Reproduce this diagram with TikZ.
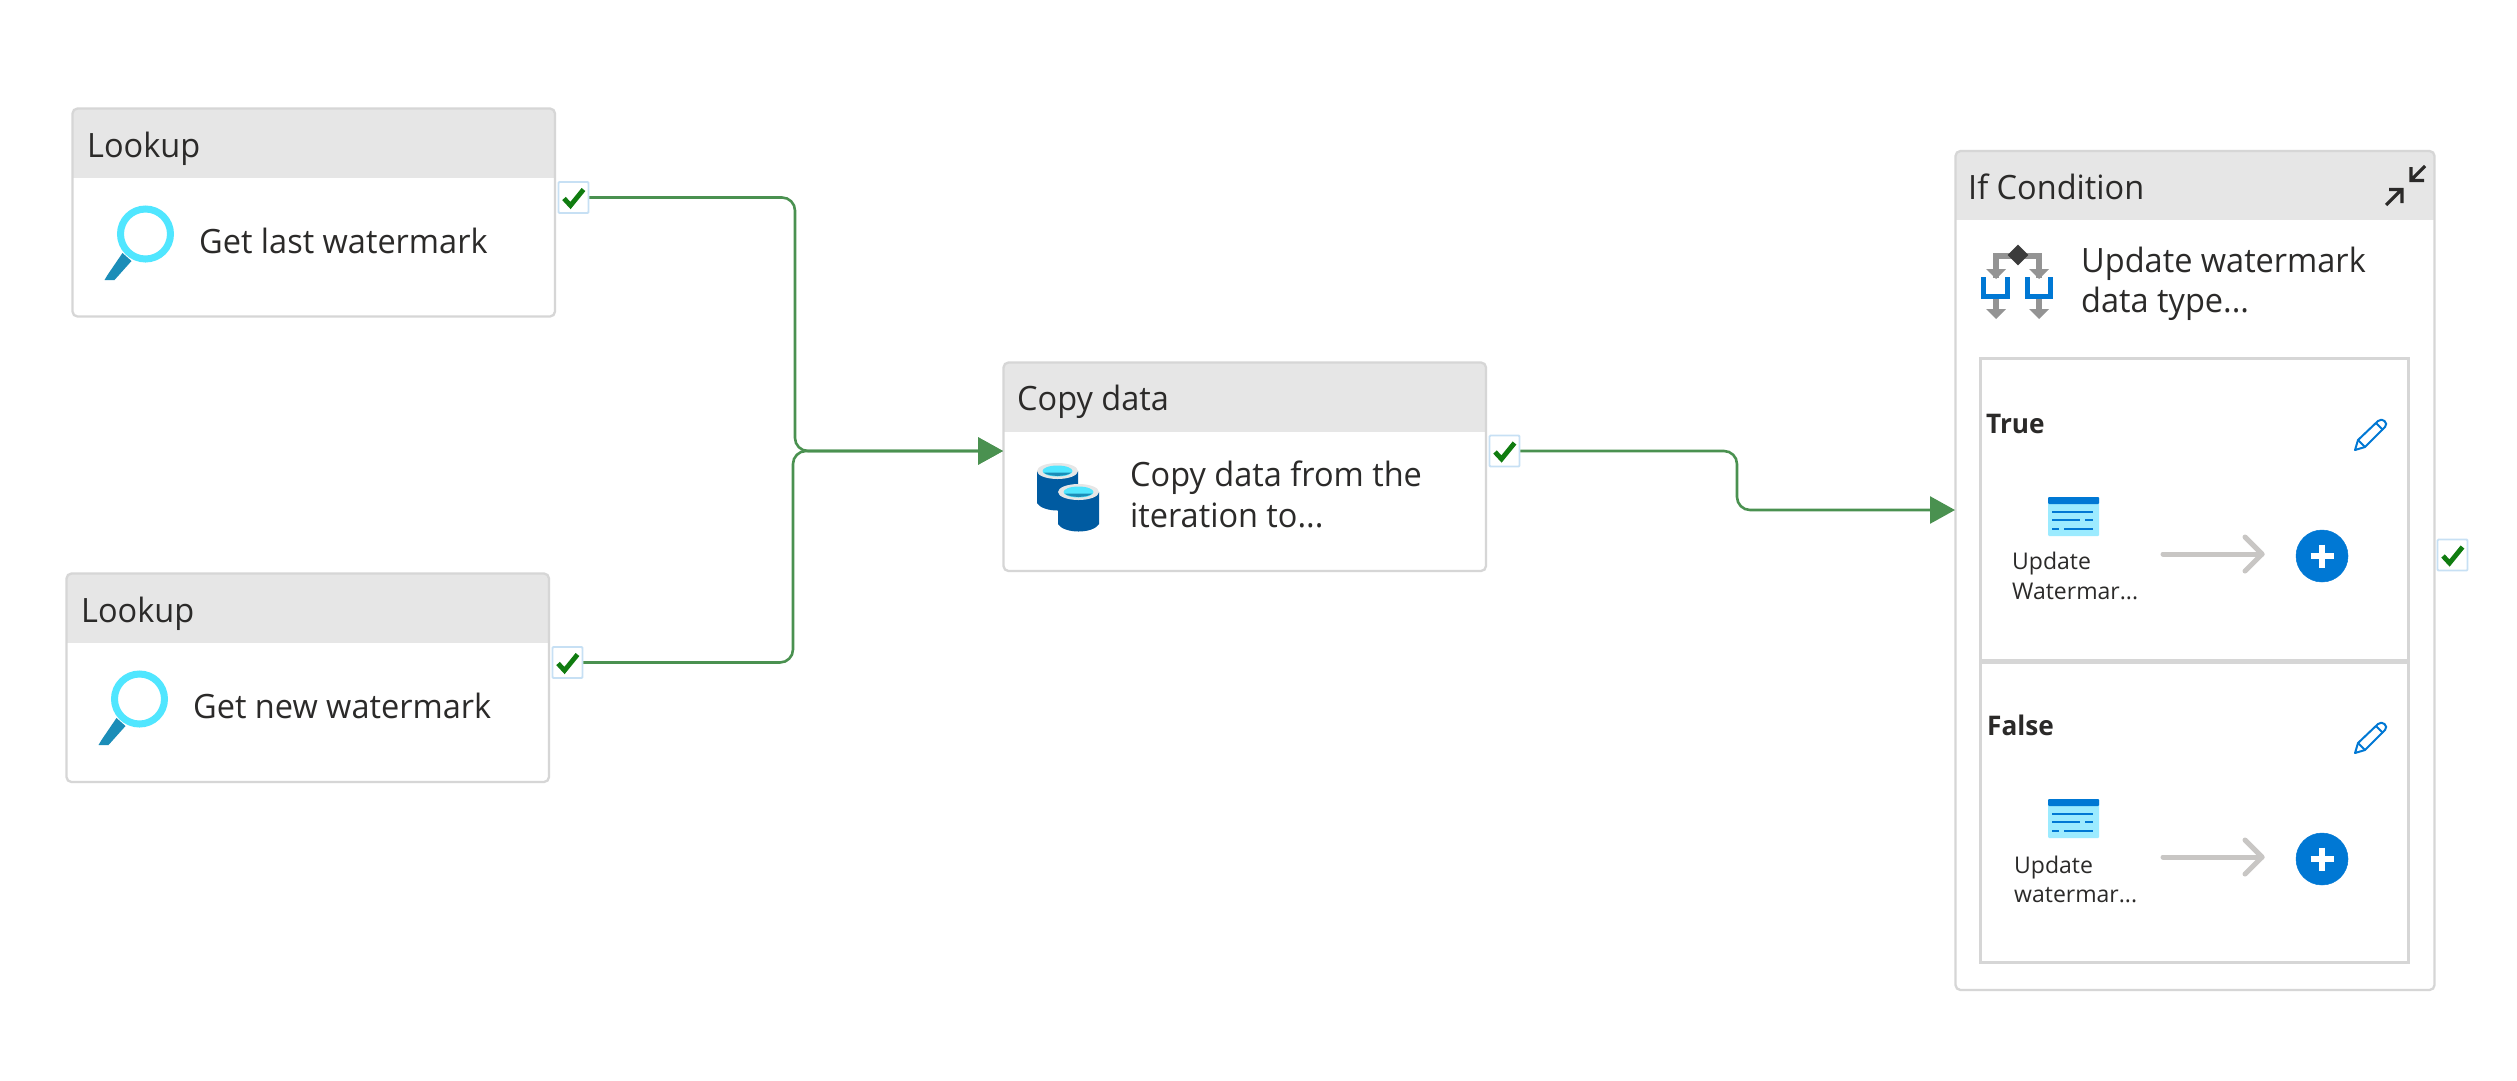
\documentclass[tikz,border=0pt]{standalone}
\usepackage{fontspec}
\setmainfont[FakeStretch=0.97]{Open Sans}
\newfontfamily\smallf{Open Sans}
\usetikzlibrary{arrows.meta,shapes.geometric}
\definecolor{edgegray}{HTML}{D6D6D6}
\definecolor{headgray}{HTML}{E6E6E6}
\definecolor{inktext}{HTML}{2B2A29}
\definecolor{flowgreen}{HTML}{4A9150}
\definecolor{checkgreen}{HTML}{107C10}
\definecolor{checkedge}{HTML}{C7E0F4}
\definecolor{azure}{HTML}{0078D4}
\definecolor{ringcyan}{HTML}{50E6FF}
\definecolor{handleblue}{HTML}{1B8DB8}
\definecolor{cylblue}{HTML}{005BA1}
\definecolor{tablecyan}{HTML}{9CEBFF}
\definecolor{arrowgray}{HTML}{C8C6C4}
\definecolor{icongray}{HTML}{949494}
\definecolor{icondark}{HTML}{3B3B3B}
\tikzset{
  x=1pt,y=-1pt,
  boxframe/.style={draw=edgegray,line width=2.3pt,rounded corners=5pt,anchor=north west,inner sep=0pt,outer sep=0pt},
  innerframe/.style={draw=edgegray,line width=3pt,anchor=north west,inner sep=0pt,outer sep=0pt},
  title/.style={anchor=base west,inner sep=0pt,text=inktext,font=\fontsize{33.5}{40}\selectfont},
  small/.style={anchor=base west,inner sep=0pt,text=inktext,font=\smallf\fontsize{23}{29}\selectfont},
  branch/.style={anchor=base west,inner sep=0pt,text=inktext,font=\bfseries\fontsize{27}{32}\selectfont},
  checkbox/.style={draw=checkedge,fill=white,line width=1.8pt,minimum width=30pt,minimum height=31pt,inner sep=0pt,rounded corners=1pt},
  flow/.style={draw=flowgreen,line width=2.6pt,rounded corners=13pt},
  flowtip/.style={flow,-{Triangle[length=25pt,width=27pt,fill=flowgreen]}},
  plusdot/.style={shape=circle,draw=azure,fill=azure,line width=0.5pt,minimum width=52pt,minimum height=52pt,inner sep=0pt},
  grayarrow/.style={draw=arrowgray,line width=5pt,line cap=round,line join=round},
}
\newcommand{\activity}[6]{% name,x,y,w,h,band height
  \fill[headgray,rounded corners=5pt] (#2,#3) -- ++(#4,0) -- ++(0,#6) -- ++(-#4,0) -- cycle;
  \fill[headgray] (#2,#3+20) rectangle ++(#4,#6-20);
  \node[boxframe,minimum width=#4pt,minimum height=#5pt] (#1) at (#2,#3) {};
}
\newcommand{\chk}[3]{% name,cx,cy
  \node[checkbox] (#1) at (#2,#3) {};
  \draw[checkgreen,line width=4.8pt] (#2-9.5,#3+1) -- (#2-3,#3+8) -- (#2+10,#3-8);
}
\newcommand{\lens}[2]{%
  \begin{scope}[shift={(#1,#2)}]
    \fill[handleblue] (-23,19) -- (-14,27) -- (-31,46) -- (-41,46) -- (-38,41) -- cycle;
    \draw[ringcyan,line width=7pt,fill=white] (0,0) circle[radius=25];
  \end{scope}}
\newcommand{\pencil}[2]{%
  \begin{scope}[shift={(#1,#2)},azure,line width=2pt,line join=round]
    \draw (0,32) -- (3,22) -- (23,3) .. controls (27,-1) and (34,5) .. (30,9) -- (10,29) -- cycle;
    \draw (3,22) -- (10,29);
    \draw (21,5) -- (28,12);
  \end{scope}}
\newcommand{\tableicon}[2]{%
  \begin{scope}[shift={(#1,#2)}]
    \fill[tablecyan,rounded corners=1pt] (0,0) rectangle (51,39);
    \fill[azure,rounded corners=1pt] (0,0) rectangle (51,7);
    \draw[azure,line width=2.6pt] (4,15) -- (45,15) (4,23) -- (32,23) (37,23) -- (45,23) (4,32) -- (11,32) (16,32) -- (45,32);
  \end{scope}}
\newcommand{\plusbtn}[3]{%
  \node[plusdot] (#1) at (#2,#3) {};
  \draw[white,line width=5.4pt] (#2-11.5,#3) -- (#2+11.5,#3) (#2,#3-11.5) -- (#2,#3+11.5);
}
\newcommand{\grayarr}[2]{% name, y
  \coordinate (#1a) at (2163,#2);
  \coordinate (#1b) at (2262,#2);
  \draw[grayarrow] (#1a) -- (#1b);
  \draw[grayarrow] (2245,#2-17) -- (#1b) -- (2245,#2+17);
}
\newcommand{\cyl}[2]{%
  \begin{scope}[shift={(#1,#2)}]
    \fill[cylblue] (0,8) -- (0,40) .. controls (6,50) and (35,50) .. (41,40) -- (41,8) -- cycle;
    \fill[headgray] (20.5,8) ellipse[x radius=20.5,y radius=8];
    \fill[ringcyan] (20.5,8) ellipse[x radius=15,y radius=5.5];
    \fill[handleblue] (6.5,9.5) .. controls (12,14) and (29,14) .. (34.5,9.5) -- cycle;
  \end{scope}}
\begin{document}
\begin{tikzpicture}
\useasboundingbox[fill=white] (0,0) rectangle (2517,1080);

% Lookup 1
\activity{lk1}{72.5}{108.5}{482.5}{208}{69}
\node[title] (lk1t) at (87,157.5) {Lookup};
\lens{145.5}{234}
\node[title] (lk1n) at (199,253.5) {Get last watermark};
\chk{c1}{573.5}{197.5}

% Lookup 2
\activity{lk2}{66.5}{573.5}{482.5}{208.5}{69}
\node[title] (lk2t) at (81,622.5) {Lookup};
\lens{139.5}{699}
\node[title] (lk2n) at (193,718.5) {Get new watermark};
\chk{c2}{567.5}{662.5}

% Copy data
\activity{cp}{1003.5}{362.5}{482.5}{208.5}{69}
\node[title] (cpt) at (1017,410.5) {Copy data};
\cyl{1037}{463}
\cyl{1058}{484}
\node[title] (cpn1) at (1130,486.5) {Copy data from the};
\node[title] (cpn2) at (1130,527.5) {iteration to...};
\chk{c3}{1504.5}{451}

% If condition
\activity{ifc}{1955.5}{151}{479}{839}{68.5}
\node[title] (ift) at (1968,199.5) {If Condition};
\node[title] (ifn1) at (2081,272.5) {Update watermark};
\node[title] (ifn2) at (2081,312.5) {data type...};
\chk{c4}{2452.5}{555}

% collapse icon
\draw[inktext,line width=3.2pt] (2425,166) -- (2411,180) (2411,167) -- (2411,180.5) -- (2424,180.5);
\draw[inktext,line width=3.2pt] (2386,205) -- (2401,190) (2389,189.5) -- (2402,189.5) -- (2402,203);

% branch icon
\draw[icongray,line width=5.5pt] (1996,278) -- (1996,256) -- (2039,256) -- (2039,278);
\fill[icongray] (1986,269) -- (2006,269) -- (1996,279) -- cycle;
\fill[icongray] (2029,269) -- (2049,269) -- (2039,279) -- cycle;
\node[diamond,fill=icondark,minimum width=21pt,minimum height=21pt,inner sep=0pt] (dm) at (2018,255) {};
\draw[azure,line width=5.5pt] (1983.5,277) -- (1983.5,296.5) -- (2007.5,296.5) -- (2007.5,277);
\draw[azure,line width=5.5pt] (2027.5,277) -- (2027.5,296.5) -- (2050.5,296.5) -- (2050.5,277);
\draw[icongray,line width=5.5pt] (1996,299) -- (1996,312) (2039,299) -- (2039,312);
\fill[icongray] (1986,309) -- (2006,309) -- (1996,319) -- cycle;
\fill[icongray] (2029,309) -- (2049,309) -- (2039,319) -- cycle;

% True / False frames
\node[innerframe,minimum width=428pt,minimum height=302pt] (tbox) at (1980.5,358.5) {};
\node[innerframe,minimum width=428pt,minimum height=300.5pt] (fbox) at (1980.5,662) {};

\node[branch] (tt) at (1986,433) {True};
\pencil{2355}{418}
\tableicon{2048}{497}
\node[small] (tu1) at (2012,569.5) {Update};
\node[small] (tu2) at (2012,599.5) {Watermar...};
\grayarr{ta}{554}
\plusbtn{tp}{2322}{556}

\node[branch] (ft) at (1987,735) {False};
\pencil{2355}{721}
\tableicon{2048}{799}
\node[small] (fu1) at (2014,873) {Update};
\node[small] (fu2) at (2014,902) {watermar...};
\grayarr{fa}{857}
\plusbtn{fp}{2322}{859}

% connectors
\coordinate (m1) at (795,451);
\coordinate (m2) at (793,451);
\coordinate (cpin) at (1003,451);
\coordinate (ifin) at (1955,510);
\coordinate (bend1) at (1737,451);
\coordinate (bend2) at (1737,510);
\draw[flowtip] (c2.east) -- (793,662.5) -- (m2) -- (cpin);
\draw[flowtip] (c1.east) -- (795,197.5) -- (m1) -- (cpin);
\draw[flowtip] (c3.east) -- (bend1) -- (bend2) -- (ifin);
\end{tikzpicture}
\end{document}
